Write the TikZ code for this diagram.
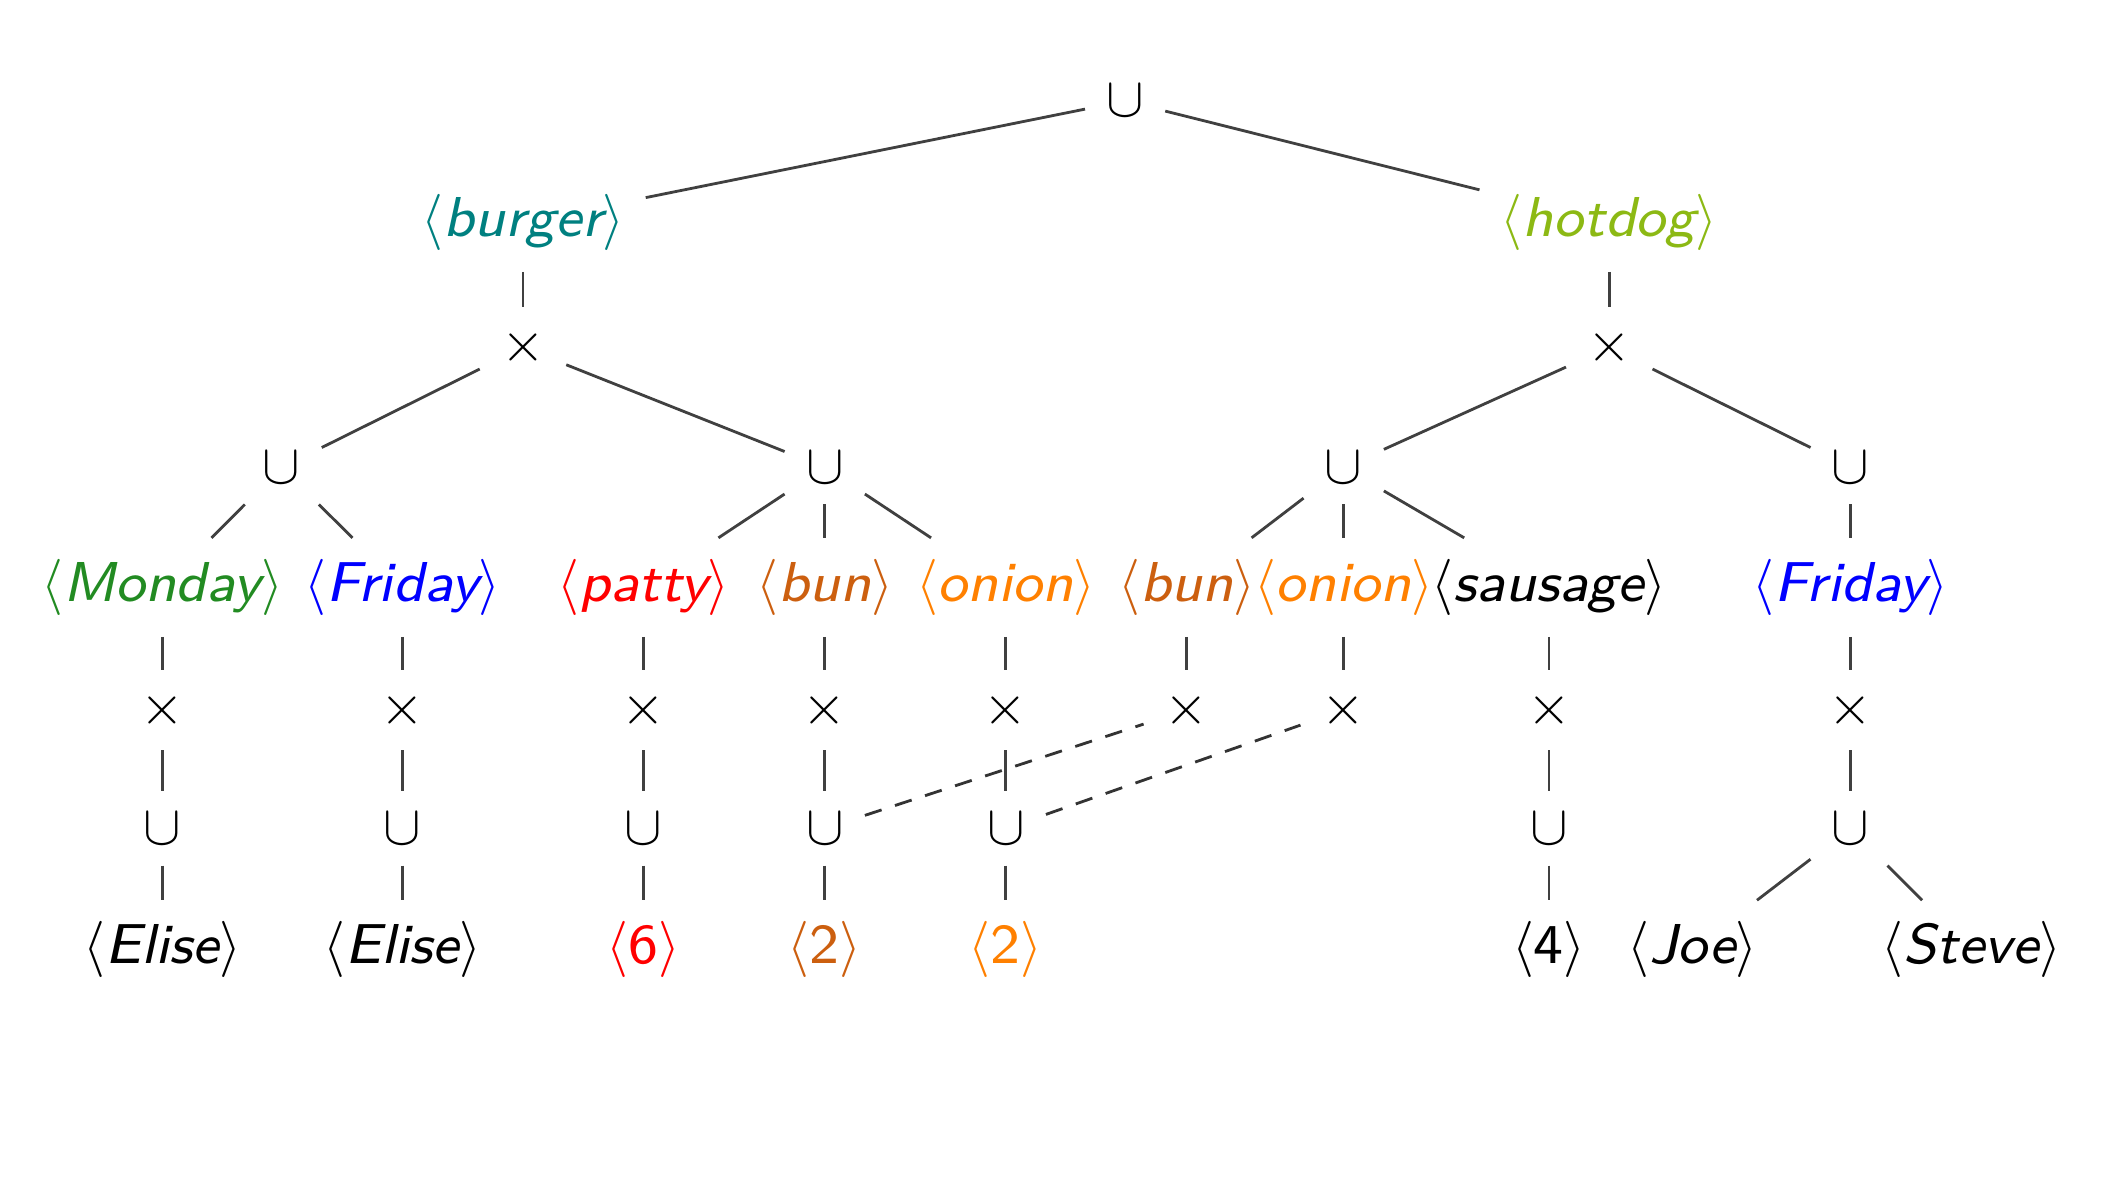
\RequirePackage{fix-cm}
\documentclass[tikz,border=0pt]{standalone}
\usepackage{fontspec}
\newfontfamily\keyfont{lmsans8-oblique.otf}
\newfontfamily\numfont{lmsans8-regular.otf}
\definecolor{burgercol}{RGB}{0,128,128}
\definecolor{hotdogcol}{RGB}{140,185,20}
\definecolor{mondaycol}{RGB}{34,139,34}
\definecolor{fridaycol}{RGB}{0,0,255}
\definecolor{pattycol}{RGB}{255,0,0}
\definecolor{buncol}{RGB}{204,95,15}
\definecolor{onioncol}{RGB}{255,128,0}
\begin{document}
\begin{tikzpicture}[x=0.01341cm,y=-0.01348cm,line width=0.8pt,
op/.style={inner sep=0.2cm,font=\fontsize{16}{19}\selectfont},
tup/.style={inner sep=0.2cm,font=\fontsize{16}{19}\selectfont\keyfont},
num/.style={inner sep=0.2cm,font=\fontsize{16}{19}\selectfont\numfont},
link/.style={draw=black!75},
shared/.style={draw=black!80,dash pattern=on 5pt off 4pt}]

\useasboundingbox (0,0) rectangle (1568.2,877.6);

% top of the tree
\draw (839,75) node[op] (u0) {$\cup$};
\draw (390,165) node[tup,text=burgercol] (burger) {$\langle$burger$\rangle$};
\draw (1200,165) node[tup,text=hotdogcol] (hotdog) {$\langle$hotdog$\rangle$};
\draw (390,258) node[op] (xb) {$\times$};
\draw (1200,258) node[op] (xh) {$\times$};
\draw (210,347) node[op] (ub1) {$\cup$};
\draw (615,347) node[op] (ub2) {$\cup$};
\draw (1002,347) node[op] (uh1) {$\cup$};
\draw (1380,347) node[op] (uh2) {$\cup$};

% keys
\draw (121,436) node[tup,text=mondaycol] (mon) {$\langle$Monday$\rangle$};
\draw (300,436) node[tup,text=fridaycol] (fri) {$\langle$Friday$\rangle$};
\draw (480,436) node[tup,text=pattycol] (patty) {$\langle$patty$\rangle$};
\draw (615,436) node[tup,text=buncol] (bun) {$\langle$bun$\rangle$};
\draw (750,436) node[tup,text=onioncol] (onion) {$\langle$onion$\rangle$};
\draw (885,436) node[tup,text=buncol] (bunh) {$\langle$bun$\rangle$};
\draw (1002,436) node[tup,text=onioncol] (onionh) {$\langle$onion$\rangle$};
\draw (1155,436) node[tup] (saus) {$\langle$sausage$\rangle$};
\draw (1380,436) node[tup,text=fridaycol] (frih) {$\langle$Friday$\rangle$};

% products under the keys
\draw (121,527) node[op] (xmon) {$\times$};
\draw (300,527) node[op] (xfri) {$\times$};
\draw (480,527) node[op] (xpatty) {$\times$};
\draw (615,527) node[op] (xbun) {$\times$};
\draw (750,527) node[op] (xonion) {$\times$};
\draw (885,527) node[op] (xbunh) {$\times$};
\draw (1002,527) node[op] (xonionh) {$\times$};
\draw (1155,527) node[op] (xsaus) {$\times$};
\draw (1380,527) node[op] (xfrih) {$\times$};

\draw (121,615) node[op] (umon) {$\cup$};
\draw (300,615) node[op] (ufri) {$\cup$};
\draw (480,615) node[op] (upatty) {$\cup$};
\draw (615,615) node[op] (ubun) {$\cup$};
\draw (750,615) node[op] (uonion) {$\cup$};
\draw (1155,615) node[op] (usaus) {$\cup$};
\draw (1380,615) node[op] (ufrih) {$\cup$};

% values
\draw (121,705) node[tup] (elise1) {$\langle$Elise$\rangle$};
\draw (300,705) node[tup] (elise2) {$\langle$Elise$\rangle$};
\draw (480,705) node[num,text=pattycol] (six) {$\langle$6$\rangle$};
\draw (615,705) node[num,text=buncol] (two1) {$\langle$2$\rangle$};
\draw (750,705) node[num,text=onioncol] (two2) {$\langle$2$\rangle$};
\draw (1155,705) node[num] (four) {$\langle$4$\rangle$};
\draw (1262,705) node[tup] (joe) {$\langle$Joe$\rangle$};
\draw (1470,705) node[tup] (steve) {$\langle$Steve$\rangle$};

\draw[link] (u0) -- (burger);
\draw[link] (u0) -- (hotdog);
\draw[link] (burger) -- (xb);
\draw[link] (hotdog) -- (xh);
\draw[link] (xb) -- (ub1);
\draw[link] (xb) -- (ub2);
\draw[link] (xh) -- (uh1);
\draw[link] (xh) -- (uh2);
\draw[link] (ub1) -- (mon);
\draw[link] (ub1) -- (fri);
\draw[link] (ub2) -- (patty);
\draw[link] (ub2) -- (bun);
\draw[link] (ub2) -- (onion);
\draw[link] (uh1) -- (bunh);
\draw[link] (uh1) -- (onionh);
\draw[link] (uh1) -- (saus);
\draw[link] (uh2) -- (frih);

\draw[link] (mon) -- (xmon) -- (umon) -- (elise1);
\draw[link] (fri) -- (xfri) -- (ufri) -- (elise2);
\draw[link] (patty) -- (xpatty) -- (upatty) -- (six);
\draw[link] (bun) -- (xbun) -- (ubun) -- (two1);
\draw[link] (onion) -- (xonion) -- (uonion) -- (two2);
\draw[link] (bunh) -- (xbunh);
\draw[link] (onionh) -- (xonionh);
\draw[link] (saus) -- (xsaus) -- (usaus) -- (four);
\draw[link] (frih) -- (xfrih) -- (ufrih);
\draw[link] (ufrih) -- (joe);
\draw[link] (ufrih) -- (steve);

% shared subtrees
\draw[shared] (ubun) -- (xbunh);
\draw[shared] (uonion) -- (xonionh);
\end{tikzpicture}
\end{document}
